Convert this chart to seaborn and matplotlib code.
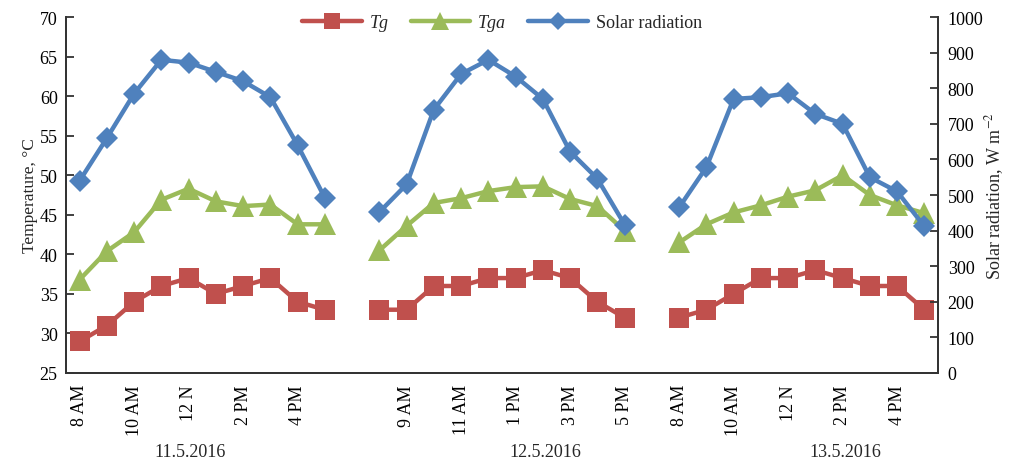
import numpy as np
import pandas as pd
import matplotlib
matplotlib.use('Agg')
import matplotlib.pyplot as plt
import seaborn as sns
from matplotlib.lines import Line2D
from matplotlib import transforms


# Glass temperature (Tg), glass-air temperature (Tga) and solar radiation over three days

days = ['11.5.2016', '12.5.2016', '13.5.2016']
hours = ['8 AM', '9 AM', '10 AM', '11 AM', '12 N', '1 PM', '2 PM', '3 PM', '4 PM', '5 PM']

shown_hours = [
    ['8 AM', '10 AM', '12 N', '2 PM', '4 PM'],
    ['9 AM', '11 AM', '1 PM', '3 PM', '5 PM'],
    ['8 AM', '10 AM', '12 N', '2 PM', '4 PM'],
]

tg = [
    [29, 31, 34, 36, 37, 35, 36, 37, 34, 33],
    [33, 33, 36, 36, 37, 37, 38, 37, 34, 32],
    [32, 33, 35, 37, 37, 38, 37, 36, 36, 33],
]

tga = [
    [36.8, 40.4, 42.8, 46.9, 48.3, 46.7, 46.1, 46.3, 43.8, 43.8],
    [40.5, 43.6, 46.5, 47.1, 48.0, 48.5, 48.6, 47.0, 46.1, 43.0],
    [41.5, 43.8, 45.3, 46.2, 47.3, 48.1, 50.0, 47.5, 46.2, 45.2],
]

solar = [
    [540, 660, 785, 880, 872, 846, 820, 775, 640, 492],
    [452, 530, 740, 840, 880, 833, 770, 622, 546, 417],
    [465, 578, 770, 775, 786, 728, 700, 550, 510, 412],
]


def build_frame():
    rows = []
    for d, day in enumerate(days):
        for h, hour in enumerate(hours):
            rows.append({
                'day': day,
                'hour': hour,
                'pos': d * (len(hours) + 1) + h,
                'Tg': tg[d][h],
                'Tga': tga[d][h],
                'Solar': solar[d][h],
            })
    return pd.DataFrame(rows)


def plot(df):
    sns.set_style('white')
    plt.rcParams['font.family'] = ['Liberation Serif', 'DejaVu Serif']
    plt.rcParams['mathtext.fontset'] = 'stix'

    red = '#C0504D'
    green = '#9BBB59'
    blue = '#4F81BD'
    lw = 3.2

    fig = plt.figure(figsize=(10.09, 4.64), dpi=100)
    ax = fig.add_axes([0.0654, 0.194, 0.8642, 0.767])
    ax2 = ax.twinx()

    sns.lineplot(data=df, x='pos', y='Tg', units='day', estimator=None, sort=False,
                 color=red, marker='s', markersize=15, markeredgewidth=0,
                 linewidth=lw, legend=False, ax=ax)
    sns.lineplot(data=df, x='pos', y='Tga', units='day', estimator=None, sort=False,
                 color=green, marker='^', markersize=16.5, markeredgewidth=0,
                 linewidth=lw, legend=False, ax=ax)
    sns.lineplot(data=df, x='pos', y='Solar', units='day', estimator=None, sort=False,
                 color=blue, marker='D', markersize=11, markeredgewidth=0,
                 linewidth=lw, legend=False, ax=ax2)

    n_cat = len(days) * (len(hours) + 1) - 1
    ax.set_xlim(-0.5, n_cat - 0.5)
    ax.set_ylim(25, 70)
    ax2.set_ylim(0, 1000)
    ax.set_yticks(np.arange(25, 71, 5))
    ax2.set_yticks(np.arange(0, 1001, 100))

    # category labels
    tick_pos = []
    tick_lab = []
    for d in range(len(days)):
        for lab in shown_hours[d]:
            tick_pos.append(d * (len(hours) + 1) + hours.index(lab))
            tick_lab.append(lab)
    ax.set_xticks(tick_pos)
    ax.set_xticklabels(tick_lab, rotation=90)
    ax.set_xticks(np.arange(-0.5, n_cat, 1.0), minor=True)

    ax.tick_params(axis='x', which='major', length=0, pad=8, labelsize=13, colors='black')
    ax.tick_params(axis='x', which='minor', direction='in', length=5, width=1.3, color='#333333')
    ax.tick_params(axis='y', direction='in', length=6, width=1.3, pad=6, labelsize=13,
                   color='#333333', labelcolor='black')
    ax2.tick_params(axis='y', direction='in', length=6, width=1.3, pad=7, labelsize=13,
                    color='#333333', labelcolor='black')

    for a in (ax, ax2):
        a.spines['top'].set_visible(False)
        for s in ('left', 'right', 'bottom'):
            a.spines[s].set_color('#333333')
            a.spines[s].set_linewidth(1.3)
        a.grid(False)

    ax.set_xlabel('')
    ax.set_ylabel('Temperature, °C', fontsize=12.5, labelpad=1)
    ax2.set_ylabel('Solar radiation, W m$^{-2}$', fontsize=13, labelpad=0)

    # date labels under each day
    trans = transforms.blended_transform_factory(ax.transData, ax.transAxes)
    for x, day in zip([4.05, 17.1, 28.1], days):
        ax.text(x, -0.22, day, transform=trans, ha='center', va='center', fontsize=13)

    handles = [
        Line2D([], [], color=red, marker='s', markersize=12, markeredgewidth=0, linewidth=lw),
        Line2D([], [], color=green, marker='^', markersize=13, markeredgewidth=0, linewidth=lw),
        Line2D([], [], color=blue, marker='D', markersize=9, markeredgewidth=0, linewidth=lw),
    ]
    leg = ax2.legend(handles, ['Tg', 'Tga', 'Solar radiation'], loc='center',
                     bbox_to_anchor=(0.5, 0.985), ncol=3, frameon=False, fontsize=13,
                     handlelength=3.3, columnspacing=1.2, handletextpad=0.45)
    leg.get_texts()[0].set_style('italic')
    leg.get_texts()[1].set_style('italic')

    fig.savefig('out.png', dpi=100)
    plt.close(fig)


if __name__ == "__main__":
    plot(build_frame())
